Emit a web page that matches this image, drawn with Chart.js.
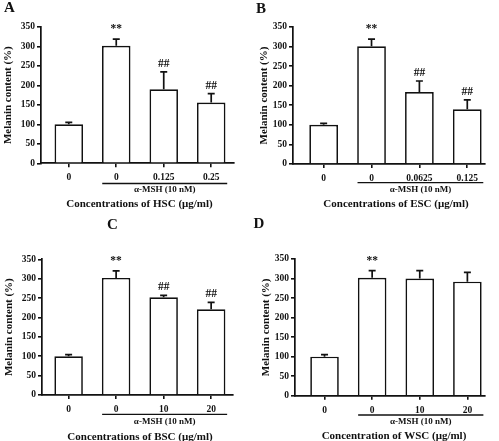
<!DOCTYPE html>
<html>
<head>
<meta charset="utf-8">
<script src="https://cdn.jsdelivr.net/npm/chart.js@4.4.1/dist/chart.umd.min.js"></script>
<style>
  body { margin: 0; background: #fff; width: 499px; height: 441px; position: relative; overflow: hidden; }
  canvas { position: absolute; }
</style>
</head>
<body>
<canvas id="cA" width="250" height="212" style="left:0;top:0"></canvas>
<canvas id="cB" width="249" height="212" style="left:250px;top:0"></canvas>
<canvas id="cC" width="250" height="229" style="left:0;top:212px"></canvas>
<canvas id="cD" width="249" height="229" style="left:250px;top:212px"></canvas>
<script>
// values (mean and upper SD, % of control)
const yTicks = [0, 50, 100, 150, 200, 250, 300, 350];

const labelsA = ['0', '0', '0.125', '0.25'];
const meanA = [100, 302, 190, 156];
const sdA = [5, 17, 45, 23];
const marksA = ['', '**', '##', '##'];

const labelsB = ['0', '0', '0.0625', '0.125'];
const meanB = [100, 301, 184, 140];
const sdB = [4, 18, 28, 24];
const marksB = ['', '**', '##', '##'];

const labelsC = ['0', '0', '10', '20'];
const meanC = [100, 302, 252, 221];
const sdC = [4, 18, 5, 18];
const marksC = ['', '**', '##', '##'];

const labelsD = ['0', '0', '10', '20'];
const meanD = [100, 302, 300, 292];
const sdD = [5, 18, 20, 24];
const marksD = ['', '**', '', ''];

const xTitles = [
  'Concentrations of HSC (μg/ml)',
  'Concentrations of ESC (μg/ml)',
  'Concentrations of BSC (μg/ml)',
  'Concentration of WSC (μg/ml)'
];
const yTitle = 'Melanin content (%)';
const mshLabel = 'α-MSH (10 nM)';

const SERIF = '"Liberation Serif", "Times New Roman", serif';
const INK = '#111111';

// draws error bars, significance marks, letters and the axis texts
function panelPlugin(p) {
  return {
    id: 'panel' + p.letter,
    afterDatasetsDraw(chart) {
      const ctx = chart.ctx;
      const x = chart.scales.x, y = chart.scales.y;
      ctx.save();
      ctx.strokeStyle = INK;
      ctx.fillStyle = INK;
      ctx.lineWidth = 1.7;
      p.mean.forEach((m, i) => {
        const px = x.getPixelForValue(i);
        const y0 = y.getPixelForValue(m);
        const y1 = y.getPixelForValue(m + p.sd[i]);
        ctx.beginPath();
        ctx.moveTo(px, y0);
        ctx.lineTo(px, y1);
        ctx.moveTo(px - 3.5, y1);
        ctx.lineTo(px + 3.5, y1);
        ctx.stroke();
        if (p.marks[i]) {
          ctx.font = 'bold 11.5px ' + SERIF;
          ctx.textAlign = 'center';
          ctx.textBaseline = 'middle';
          const off = p.marks[i] === '**' ? 10 : 8;
          ctx.fillText(p.marks[i], px, y1 - off);
        }
      });
      ctx.restore();
    },
    afterDraw(chart) {
      const ctx = chart.ctx;
      const x = chart.scales.x;
      const area = chart.chartArea;
      ctx.save();
      ctx.fillStyle = INK;
      ctx.strokeStyle = INK;
      ctx.textAlign = 'center';
      ctx.textBaseline = 'middle';

      // panel letter
      ctx.font = 'bold 15px ' + SERIF;
      ctx.fillText(p.letter, p.letterX, p.letterY);

      // α-MSH bracket line
      const u0 = x.getPixelForValue(1) - 14;
      const u1 = x.getPixelForValue(3) + 16;
      ctx.lineWidth = 1.3;
      ctx.beginPath();
      ctx.moveTo(u0, p.underY);
      ctx.lineTo(u1, p.underY);
      ctx.stroke();
      ctx.font = 'bold 9px ' + SERIF;
      ctx.fillText(mshLabel, (u0 + u1) / 2, p.mshY);

      // x title
      ctx.font = 'bold 11px ' + SERIF;
      ctx.fillText(p.xTitle, p.titleX, p.titleY);

      // y title
      ctx.translate(p.yTitleX, (area.top + area.bottom) / 2);
      ctx.rotate(-Math.PI / 2);
      ctx.fillText(yTitle, 0, 0);
      ctx.restore();
    }
  };
}

function makeChart(p) {
  const axisLine = { display: true, color: INK, width: 1.7 };
  const tickGrid = { display: true, offset: false, drawOnChartArea: false, drawTicks: true, tickLength: 4, color: INK, lineWidth: 1.6 };
  return new Chart(document.getElementById(p.id), {
    type: 'bar',
    data: {
      datasets: [{
        data: p.mean.map((v, i) => ({ x: i, y: v })),
        backgroundColor: '#ffffff',
        borderColor: INK,
        borderWidth: 1.7,
        barPercentage: 0.6,
        categoryPercentage: 1
      }]
    },
    options: {
      responsive: false,
      animation: false,
      devicePixelRatio: 1,
      layout: { padding: { left: 0, top: p.top, right: p.w - p.right, bottom: 0 } },
      plugins: { legend: { display: false }, tooltip: { enabled: false }, title: { display: false } },
      scales: {
        x: {
          type: 'linear',
          offset: false,
          bounds: 'data',
          min: p.xmin,
          max: p.xmax,
          afterFit: s => { s.height = p.h - p.bottom; },
          afterBuildTicks: s => { s.ticks = p.labels.map((_, i) => ({ value: i })); },
          grid: tickGrid,
          border: axisLine,
          ticks: {
            autoSkip: false, maxRotation: 0, padding: 5, color: INK,
            font: { family: SERIF, size: 9.5, weight: 'bold' },
            callback: v => p.labels[v]
          }
        },
        y: {
          min: 0,
          max: 350,
          afterFit: s => { s.width = p.left; },
          afterBuildTicks: s => { s.ticks = yTicks.map(v => ({ value: v })); },
          grid: tickGrid,
          border: axisLine,
          ticks: {
            padding: 2, color: INK,
            font: { family: SERIF, size: 9.5, weight: 'bold' }
          }
        }
      }
    },
    plugins: [panelPlugin(p)]
  });
}

makeChart({ id: 'cA', letter: 'A', labels: labelsA, mean: meanA, sd: sdA, marks: marksA, xTitle: xTitles[0],
  w: 250, h: 212, left: 41, right: 234, top: 27, bottom: 163.3, xmin: -0.585, xmax: 3.48,
  letterX: 9.5, letterY: 8.5, yTitleX: 8, titleX: 139.5, titleY: 204, mshY: 190, underY: 183.5 });

makeChart({ id: 'cB', letter: 'B', labels: labelsB, mean: meanB, sd: sdB, marks: marksB, xTitle: xTitles[1],
  w: 249, h: 212, left: 43, right: 235, top: 27, bottom: 164, xmin: -0.64, xmax: 3.37,
  letterX: 11, letterY: 9, yTitleX: 14, titleX: 146, titleY: 204, mshY: 190, underY: 182.7 });

makeChart({ id: 'cC', letter: 'C', labels: labelsC, mean: meanC, sd: sdC, marks: marksC, xTitle: xTitles[2],
  w: 250, h: 229, left: 42, right: 233, top: 47.3, bottom: 183, xmin: -0.56, xmax: 3.46,
  letterX: 112.5, letterY: 13, yTitleX: 9, titleX: 140, titleY: 225, mshY: 210, underY: 202.3 });

makeChart({ id: 'cD', letter: 'D', labels: labelsD, mean: meanD, sd: sdD, marks: marksD, xTitle: xTitles[3],
  w: 249, h: 229, left: 45, right: 235, top: 47, bottom: 183.7, xmin: -0.62, xmax: 3.37,
  letterX: 9, letterY: 12.5, yTitleX: 16, titleX: 144, titleY: 224, mshY: 209.7, underY: 203 });
</script>
</body>
</html>
